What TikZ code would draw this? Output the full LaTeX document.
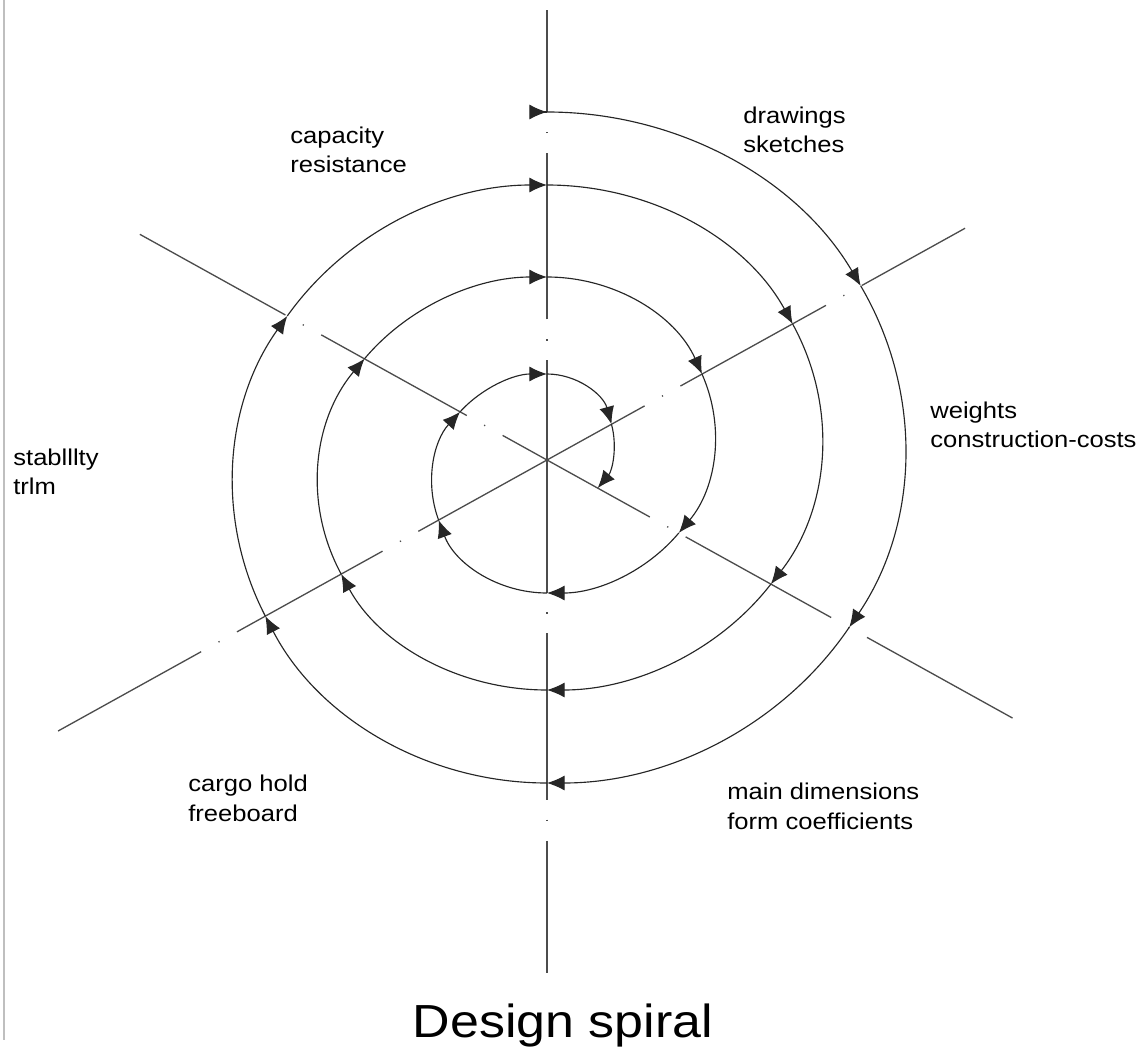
\documentclass[tikz,border=0pt]{standalone}
\usepackage{fontspec}
\setmainfont{Liberation Sans}
\newfontfamily\notefont{Liberation Sans}[FakeStretch=1.12]
\newfontfamily\titlefont{Liberation Sans}[FakeStretch=1.12]
\usetikzlibrary{arrows.meta}

\tikzset{
  axisline/.style={draw=black!70, line width=0.75pt,
    dash pattern=on 94.7pt off 11.3pt on 0.7pt off 11.3pt},
  turn/.style={draw=black!85, line width=0.65pt,
    -{Latex[length=10pt,width=8.5pt]}},
  sidenote/.style={align=left, anchor=north west, inner sep=0pt,
    font=\notefont\fontsize{13}{16.8}\selectfont}
}

\begin{document}
\begin{tikzpicture}[scale=0.2]
% page frame, 1 unit = 10 px of the drawing
\useasboundingbox (-54.7,46) rectangle (59.5,-59.9);
\draw[black!25, line width=1pt] (-54.3,46) -- (-54.3,-58);

% centre lines
\coordinate (o) at (0,0);
\coordinate (up) at (90:45);
\coordinate (down) at (-90:51.3);
\coordinate (ul) at (151:47.1);
\coordinate (lr) at (-29:53.8);
\coordinate (ur) at (29:47.8);
\coordinate (ll) at (209:55.9);
\draw[axisline, dash phase=38pt] (o) -- (up);
\draw[axisline, dash phase=19.3pt] (o) -- (down);
\draw[axisline, dash phase=65.8pt] (o) -- (ul);
\draw[axisline, dash phase=27.8pt] (o) -- (lr);
\draw[axisline, dash phase=31.2pt] (o) -- (ur);
\draw[axisline, dash phase=11pt] (o) -- (ll);

% the spiral, half turn by half turn: centre y / x radius / y radius / from / to
\coordinate (start) at (0,34.8);
\draw[turn] ([xshift=-1pt]start) -- (start);
\foreach \c/\rx/\ry/\s/\e in {
  1.25/35.8/33.55/90/28.8, 1.25/35.8/33.55/28.8/-32.4, 1.25/35.8/33.55/-32.4/-90,
  -2.4/31.4/29.9/-90/-153.8, -2.4/31.4/29.9/-153.8/-214.2, -2.4/31.4/29.9/-214.2/-270,
  2.25/27.5/25.25/90/26.7, 2.25/27.5/25.25/26.7/-35.5, 2.25/27.5/25.25/-35.5/-90,
  -2.35/22.9/20.65/-90/-154, -2.35/22.9/20.65/-154/-217.2, -2.35/22.9/20.65/-217.2/-270,
  2.5/16.8/15.8/90/22.7, 2.5/16.8/15.8/22.7/-38.3, 2.5/16.8/15.8/-38.3/-90,
  -2.35/11.5/10.95/-90/-160.5, -2.35/11.5/10.95/-160.5/-220.9, -2.35/11.5/10.95/-220.9/-270,
  1.7/6.7/6.9/90/15.8, 1.7/6.7/6.9/15.8/-40.8}
  \draw[turn, shift={(0,\c)}] ({\rx*cos(\s)},{\ry*sin(\s)})
    arc[start angle=\s, end angle=\e, x radius=\rx, y radius=\ry];

% labels
\node[sidenote] (drawings) at (19.6,35.35) {drawings\\sketches};
\node[sidenote] (capacity) at (-25.7,33.35) {capacity\\resistance};
\node[sidenote] (weights) at (38.3,5.85) {weights\\construction-costs};
\node[sidenote] (stability) at (-53.4,1.15) {stablllty\\trlm};
\node[sidenote] (cargo) at (-35.9,-31.5) {cargo hold\\freeboard};
\node[sidenote] (maindim) at (18,-32.3) {main dimensions\\form coefficients};
\node[font=\titlefont\fontsize{26.4}{30}\selectfont, anchor=base] (title)
  at (1.6,-57.7) {Design spiral};
\end{tikzpicture}
\end{document}
